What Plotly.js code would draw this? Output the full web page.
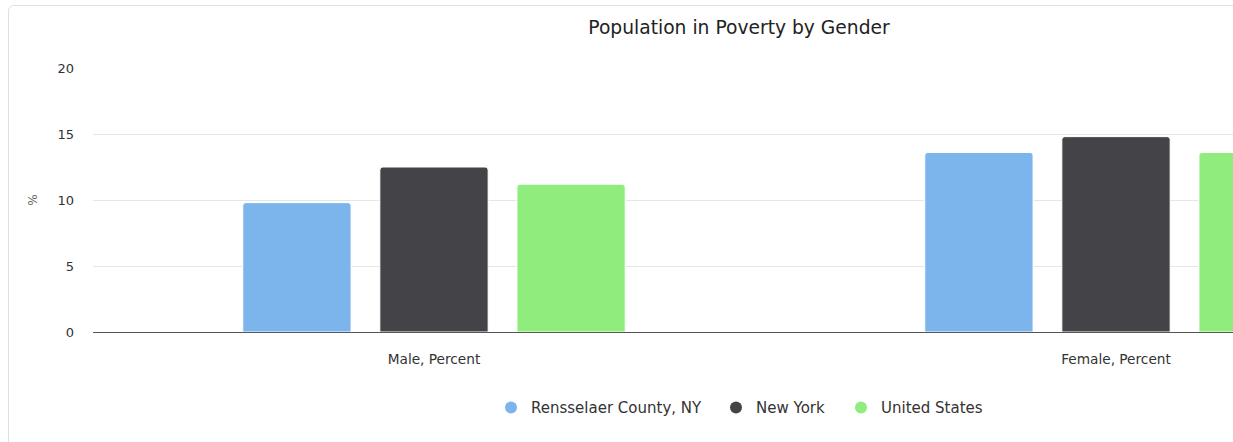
<!DOCTYPE html>
<html>
<head>
<meta charset="utf-8">
<script src="https://cdn.plot.ly/plotly-3.0.1.min.js"></script>
<style>
  html, body { margin: 0; padding: 0; background: #fff; overflow: hidden; width: 1233px; height: 442px; }
  #frame { position: absolute; left: 8px; top: 5px; width: 1460px; height: 460px;
           border: 1px solid #e0e0e0; border-radius: 6px; box-sizing: border-box; overflow: hidden; }
  #chart { position: absolute; left: 0; top: 0; width: 1460px; height: 445px; }
</style>
</head>
<body>
<div id="frame"><div id="chart"></div></div>
<script>
const categories = ["Male, Percent", "Female, Percent"];
const seriesNames = ["Rensselaer County, NY", "New York", "United States"];
const rensselaer = [9.8, 13.6];
const newYork = [12.5, 14.8];
const unitedStates = [11.2, 13.6];
const colors = ["#7cb5ec", "#434348", "#90ed7d"];
const seriesValues = [rensselaer, newYork, unitedStates];

const font = "DejaVu Sans, Verdana, sans-serif";
const legendIds = ["legend", "legend2", "legend3"];
const legendLeft = [482, 707, 832];  // px within the chart container
const traces = [];
seriesValues.forEach((vals, i) => {
  traces.push({
    type: "bar", x: categories, y: vals, name: seriesNames[i],
    marker: { color: colors[i], line: { color: "#ffffff", width: 1 }, cornerradius: 3 },
    showlegend: false, legendgroup: "g" + i, hoverinfo: "x+y+name"
  });
});
seriesValues.forEach((vals, i) => {
  traces.push({
    type: "scatter", mode: "markers", x: [null], y: [null], name: seriesNames[i],
    marker: { color: colors[i], size: 14, symbol: "circle" },
    showlegend: true, legendgroup: "g" + i, legend: legendIds[i], hoverinfo: "skip"
  });
});

const layout = {
  width: 1460, height: 445,
  margin: { l: 84, r: 12, t: 62, b: 119 },
  paper_bgcolor: "rgba(0,0,0,0)", plot_bgcolor: "#ffffff",
  font: { family: font, color: "#333333" },
  title: { text: "Population in Poverty by Gender", font: { size: 18.7, color: "#222222", family: font },
           x: 0.5, xanchor: "center", xref: "container", y: 0.952, yanchor: "middle", yref: "container" },
  barmode: "group", bargap: 0.397, bargroupgap: 0.21,
  xaxis: {
    type: "category", showgrid: false, zeroline: false,
    showline: true, linecolor: "#555555", linewidth: 1,
    ticks: "", ticklabelstandoff: 15,
    tickfont: { size: 13.7, color: "#333333", family: font }
  },
  yaxis: {
    range: [0, 20], dtick: 5, showgrid: true, gridcolor: "#e6e6e6", gridwidth: 1,
    zeroline: false, showline: false, ticks: "", ticklabelstandoff: 18,
    tickfont: { size: 13, color: "#333333", family: font },
    title: { text: "%", font: { size: 12, color: "#666666", family: font }, standoff: 17 }
  },
  showlegend: true
};
legendIds.forEach((id, i) => {
  layout[id] = {
    orientation: "h", xref: "container", x: legendLeft[i] / 1460, xanchor: "left",
    yref: "container", y: 0.097, yanchor: "middle",
    font: { size: 15, color: "#333333", family: font },
    itemsizing: "constant", bgcolor: "rgba(0,0,0,0)"
  };
});
Plotly.newPlot("chart", traces, layout, { displayModeBar: false, staticPlot: false });
</script>
</body>
</html>
